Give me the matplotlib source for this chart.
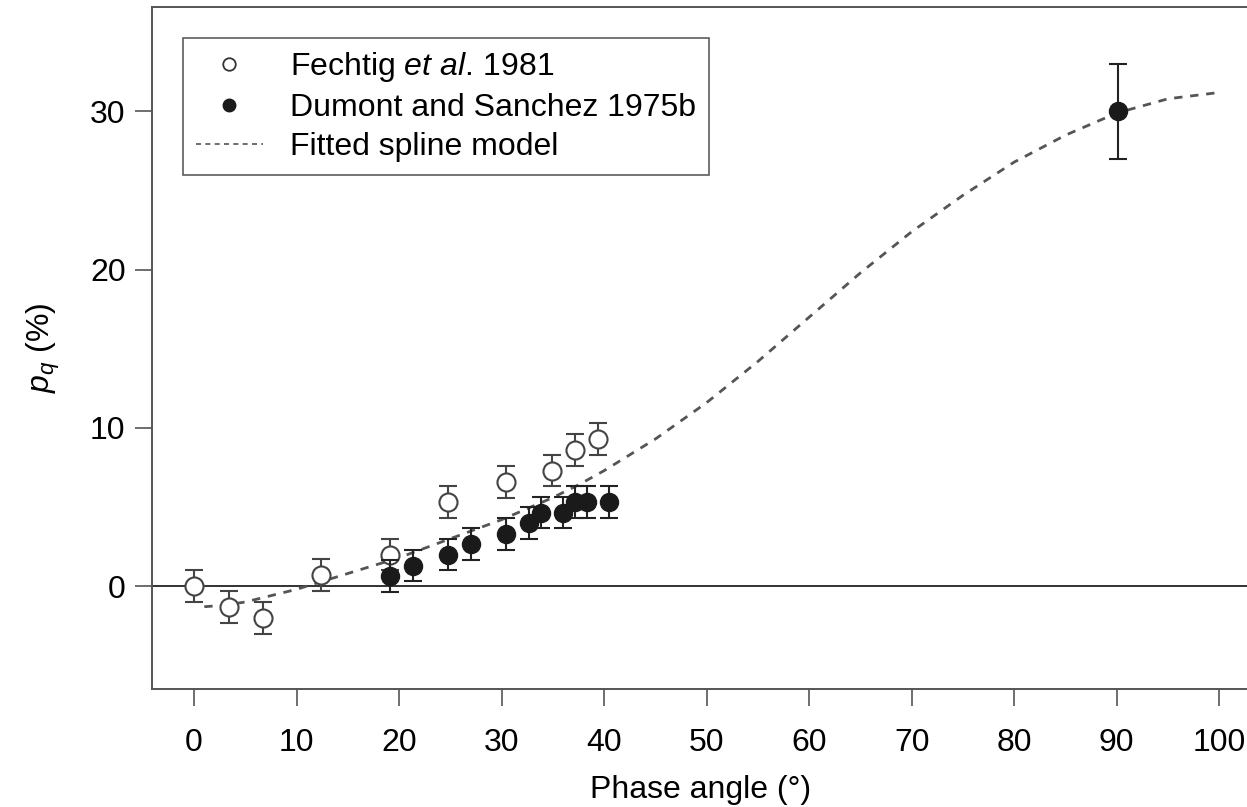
import matplotlib
matplotlib.use("Agg")
import matplotlib.pyplot as plt
from matplotlib.lines import Line2D

plt.rcParams["font.family"] = ["Liberation Sans", "DejaVu Sans"]
plt.rcParams["mathtext.fontset"] = "custom"
plt.rcParams["mathtext.rm"] = "Liberation Sans"
plt.rcParams["mathtext.it"] = "Liberation Sans:italic"

# Fechtig et al. 1981 (open circles)
fechtig_x = [0.0, 3.4, 6.7, 12.4, 19.1, 24.8, 30.4, 34.9, 37.2, 39.4]
fechtig_y = [0.0, -1.3, -2.0, 0.7, 2.0, 5.3, 6.6, 7.3, 8.6, 9.3]
fechtig_err = [1.0, 1.0, 1.0, 1.0, 1.0, 1.0, 1.0, 1.0, 1.0, 1.0]

# Dumont and Sanchez 1975b (filled circles)
dumont_x = [19.1, 21.4, 24.8, 27.0, 30.4, 32.7, 33.8, 36.0, 37.2, 38.3, 40.5, 90.1]
dumont_y = [0.65, 1.3, 2.0, 2.65, 3.3, 4.0, 4.65, 4.65, 5.3, 5.3, 5.3, 30.0]
dumont_err = [1.0, 1.0, 1.0, 1.0, 1.0, 1.0, 1.0, 1.0, 1.0, 1.0, 1.0, 3.0]

# fitted spline model
spline_x = [1, 3, 5, 7.5, 10, 12.5, 15, 17.5, 20, 22.5, 25, 27.5, 30, 32.5, 35,
            37.5, 40, 45, 50, 55, 60, 65, 70, 75, 80, 85, 90, 95, 100]
spline_y = [-1.3, -1.2, -1.0, -0.6, -0.2, 0.3, 0.8, 1.3, 1.8, 2.4, 3.0, 3.6, 4.2,
            4.9, 5.6, 6.4, 7.3, 9.3, 11.6, 14.2, 17.0, 19.8, 22.4, 24.7, 26.8,
            28.5, 29.9, 30.8, 31.2]

x_ticks = [0, 10, 20, 30, 40, 50, 60, 70, 80, 90, 100]
y_ticks = [0, 10, 20, 30]

fig = plt.figure(figsize=(12.47, 8.07), dpi=100)
ax = fig.add_axes([0.1219, 0.1462, 0.8805, 0.8451])

ax.axhline(0, color="#222222", lw=1.3, zorder=1)
ax.plot(spline_x, spline_y, color="#555555", lw=2.0, dashes=(3, 2.8), zorder=2)

ax.errorbar(fechtig_x, fechtig_y, yerr=fechtig_err, fmt="o", ms=13,
            mfc="white", mec="#444444", mew=1.5, ecolor="#444444",
            elinewidth=1.5, capsize=6.5, capthick=1.5, zorder=3)
ax.errorbar(dumont_x, dumont_y, yerr=dumont_err, fmt="o", ms=13,
            mfc="#1a1a1a", mec="#1a1a1a", ecolor="#222222",
            elinewidth=1.5, capsize=6.5, capthick=1.5, zorder=4)

ax.set_xlim(-4.1, 103)
ax.set_ylim(-6.5, 36.6)
ax.set_xticks(x_ticks)
ax.set_yticks(y_ticks)
ax.tick_params(labelsize=23, length=12, width=1.2, color="#555555")
ax.tick_params(axis="x", pad=16)
ax.tick_params(axis="y", pad=7)
for s in ax.spines.values():
    s.set_color("#555555")
    s.set_linewidth(1.4)

ax.set_xlabel("Phase angle (°)", fontsize=23, labelpad=12)
ax.set_ylabel("$p_q$ (%)", fontsize=23, labelpad=20)

handles = [
    Line2D([], [], ls="none", marker="o", ms=9, mfc="white", mec="#333333", mew=1.3),
    Line2D([], [], ls="none", marker="o", ms=9, mfc="#1a1a1a", mec="#1a1a1a"),
    Line2D([], [], color="#555555", lw=1.2, dashes=(3, 2.6)),
]
labels = ["Fechtig $\\it{et\\ al.}\\,$1981", "Dumont and Sanchez 1975b", "Fitted spline model"]
leg = ax.legend(handles, labels, loc="upper left", bbox_to_anchor=(0.028, 0.955),
                borderaxespad=0, fontsize=23, frameon=True, fancybox=False,
                edgecolor="#333333", handlelength=2.1, handletextpad=0.85,
                labelspacing=0.27, borderpad=0.4)
leg.get_frame().set_linewidth(1.2)

fig.savefig("out.png", dpi=100)
